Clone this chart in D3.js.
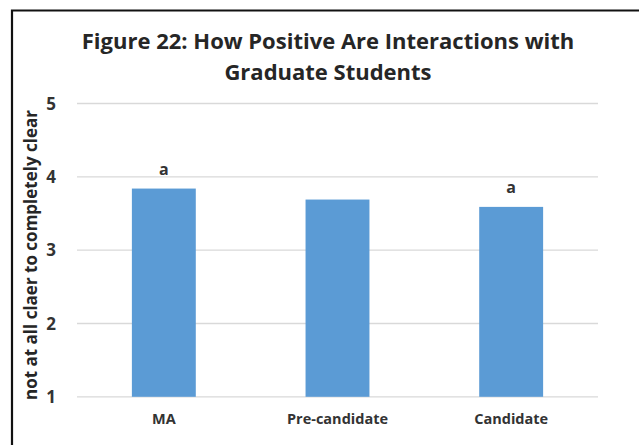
<!DOCTYPE html>
<meta charset="utf-8">
<head>
  <title>Figure 22</title>
  <script src="https://d3js.org/d3.v7.min.js"></script>
  <style>
    body { margin: 0; background: #fff; }
    svg { font-family: "Open Sans", "Liberation Sans", sans-serif; }
    .grid line { stroke: #d9d9d9; stroke-width: 1.3; }
    .title { font-weight: bold; fill: #262626; }
    .tick-label { font-weight: bold; fill: #333; }
  </style>
</head>
<body>
<script>
  // chart data
  var categories = ["MA", "Pre-candidate", "Candidate"];
  var means = [3.84, 3.69, 3.59];
  var marks = ["a", "", "a"];
  var yTicks = [1, 2, 3, 4, 5];
  var titleLines = ["Figure 22: How Positive Are Interactions with", "Graduate Students"];
  var yTitle = "not at all claer to completely clear";

  var width = 639, height = 445;
  var plot = {left: 77, right: 598, top: 103.5, bottom: 396.8};

  var svg = d3.select("body").append("svg")
    .attr("width", width)
    .attr("height", height);

  svg.append("rect").attr("width", width).attr("height", height).attr("fill", "#fff");

  // frame (top and left edges only are visible in the crop)
  svg.append("path")
    .attr("d", "M12," + height + "V10.5H" + width)
    .attr("fill", "none")
    .attr("stroke", "#111")
    .attr("stroke-width", 2.2);

  var x = d3.scaleBand()
    .domain(categories)
    .range([plot.left, plot.right])
    .paddingInner(0.632)
    .paddingOuter(0.316);

  var y = d3.scaleLinear()
    .domain([1, 5])
    .range([plot.bottom, plot.top]);

  // gridlines
  svg.append("g")
    .attr("class", "grid")
    .selectAll("line")
    .data(yTicks)
    .enter().append("line")
    .attr("x1", plot.left)
    .attr("x2", plot.right)
    .attr("y1", function(d) { return y(d); })
    .attr("y2", function(d) { return y(d); });

  // bars
  svg.append("g")
    .selectAll("rect")
    .data(categories)
    .enter().append("rect")
    .attr("x", function(d) { return x(d); })
    .attr("width", x.bandwidth())
    .attr("y", function(d, i) { return y(means[i]); })
    .attr("height", function(d, i) { return y(1) - y(means[i]); })
    .attr("fill", "#5b9bd5");

  // significance letters
  svg.append("g")
    .selectAll("text")
    .data(categories)
    .enter().append("text")
    .attr("x", function(d) { return x(d) + x.bandwidth() / 2; })
    .attr("y", function(d, i) { return y(means[i]) - 14; })
    .attr("text-anchor", "middle")
    .attr("class", "tick-label")
    .style("font-size", "16px")
    .text(function(d, i) { return marks[i]; });

  // y tick labels
  svg.append("g")
    .selectAll("text")
    .data(yTicks)
    .enter().append("text")
    .attr("x", 56)
    .attr("y", function(d) { return y(d); })
    .attr("dy", "0.36em")
    .attr("text-anchor", "end")
    .attr("class", "tick-label")
    .style("font-size", "17px")
    .text(function(d) { return d; });

  // x labels
  svg.append("g")
    .selectAll("text")
    .data(categories)
    .enter().append("text")
    .attr("x", function(d) { return x(d) + x.bandwidth() / 2; })
    .attr("y", 424)
    .attr("text-anchor", "middle")
    .attr("class", "tick-label")
    .style("font-size", "14.5px")
    .text(function(d) { return d; });

  // y axis title
  svg.append("text")
    .attr("transform", "translate(37,255) rotate(-90)")
    .attr("text-anchor", "middle")
    .attr("class", "title")
    .style("font-size", "17px")
    .text(yTitle);

  // chart title
  svg.append("g")
    .selectAll("text")
    .data(titleLines)
    .enter().append("text")
    .attr("x", 328)
    .attr("y", function(d, i) { return 49 + i * 31; })
    .attr("text-anchor", "middle")
    .attr("class", "title")
    .style("font-size", "22px")
    .text(function(d) { return d; });
</script>
</body>
</html>
